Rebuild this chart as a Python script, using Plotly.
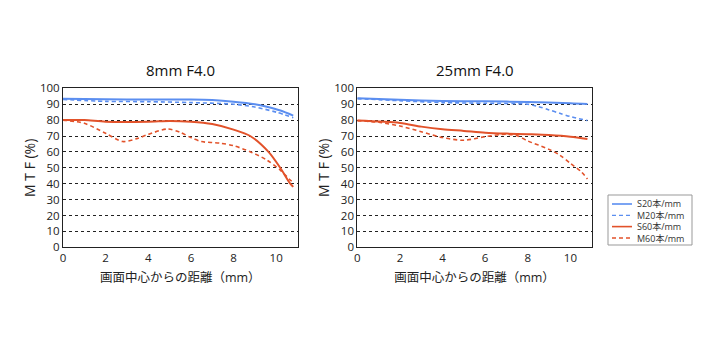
import plotly.graph_objects as go

# ---- data ----
x_s20_8 = [0, 2, 4, 6, 7, 8, 9, 9.56, 10.2, 10.8]
y_s20_8 = [93.4, 93.1, 92.9, 92.9, 92.6, 91.6, 90.0, 88.4, 86.0, 82.8]
x_m20_8 = [0, 2, 4, 6, 8, 9, 10, 10.8]
y_m20_8 = [93.0, 91.8, 91.6, 91.0, 90.0, 88.2, 85.0, 81.5]
x_s60_8 = [0, 1, 2, 4, 5, 6, 7, 8, 8.78, 9.64, 10.19, 10.66, 10.8]
y_s60_8 = [80, 80, 79, 79, 79.5, 79, 77.5, 74, 70, 60, 50, 40, 38]
x_m60_8 = [0, 1, 2, 2.8, 3.5, 4, 4.9, 5.5, 6, 6.5, 7.37, 8, 8.78, 9.56, 10.19, 10.66, 10.8]
y_m60_8 = [80, 78, 71.7, 66.5, 68.5, 71, 74.4, 72.3, 69, 66.5, 65.5, 63.9, 60.1, 54.9, 48.6, 42.3, 41]

x_s20_25 = [0, 2, 4, 6, 8, 10, 10.8]
y_s20_25 = [93.7, 92.8, 92.0, 91.8, 91.4, 90.6, 90.1]
x_m20_25 = [0, 2, 4, 6, 8, 8.5, 9, 9.5, 10, 10.8]
y_m20_25 = [93.5, 92.2, 91.0, 90.6, 90.0, 88.5, 86.4, 84.3, 82.2, 79.7]
x_s60_25 = [0, 2, 3, 4, 5, 6, 7, 8, 9, 10, 10.8]
y_s60_25 = [79.7, 78.2, 75.9, 74.2, 73.2, 72.1, 71.5, 71.1, 70.6, 69.6, 68.1]
x_m60_25 = [0, 1, 2, 3, 4, 5, 6, 7, 7.5, 8, 9, 9.5, 10, 10.5, 10.8]
y_m60_25 = [79.7, 78.6, 76.3, 72.7, 69, 67.3, 69.6, 71.1, 70.2, 66.9, 61.6, 58, 52.8, 47.6, 43]

titles = ["8mm F4.0", "25mm F4.0"]
legend_names = ["S20本/mm", "M20本/mm", "S60本/mm", "M60本/mm"]
y_ticks = list(range(0, 101, 10))
x_ticks = [0, 2, 4, 6, 8, 10]
x_title = "画面中心からの距離（mm）"
y_title = "M T F (%)"

BLUE = "#5b8ef0"
RED = "#e2522a"
FONT = "Open Sans, Noto Sans CJK JP"
W, H = 720, 345

fig = go.Figure()

panels = [
    ("x", "y", [(x_s20_8, y_s20_8), (x_m20_8, y_m20_8), (x_s60_8, y_s60_8), (x_m60_8, y_m60_8)]),
    ("x2", "y2", [(x_s20_25, y_s20_25), (x_m20_25, y_m20_25), (x_s60_25, y_s60_25), (x_m60_25, y_m60_25)]),
]
styles = [(BLUE, "solid", 2), (BLUE, "4px,3px", 1.6), (RED, "solid", 2), (RED, "4px,3px", 1.6)]

for pi, (xa, ya, series) in enumerate(panels):
    for si, (xs, ys) in enumerate(series):
        c, d, w = styles[si]
        fig.add_trace(go.Scatter(
            x=xs, y=ys, mode="lines", xaxis=xa, yaxis=ya,
            line=dict(color=c, dash=d, width=w, shape="spline", smoothing=0.8),
            name=legend_names[si], showlegend=False, hoverinfo="skip",
        ))

ydom = [1 - 247.3 / H, 1 - 88.3 / H]
axis_common = dict(showline=True, linecolor="#222", linewidth=1, mirror=True,
                   ticks="", tickfont=dict(size=11.5, color="#222", family=FONT),
                   zeroline=False, automargin=False)

fig.update_layout(
    width=W, height=H,
    margin=dict(l=0, r=0, t=0, b=0, pad=0),
    paper_bgcolor="white", plot_bgcolor="white",
    font=dict(family=FONT, color="#222"),
    showlegend=False,
    xaxis=dict(domain=[63 / W, 297.5 / W], range=[0, 11], tickvals=x_ticks,
               showgrid=False, anchor="y",
               title=dict(text=x_title, font=dict(size=12.5), standoff=9),
               **axis_common),
    yaxis=dict(domain=ydom, range=[0, 100], tickvals=y_ticks, anchor="x",
               showgrid=True, gridcolor="#222", griddash="dot", gridwidth=1,
               title=dict(text=y_title, font=dict(size=14), standoff=1),
               **axis_common),
    xaxis2=dict(domain=[357.3 / W, 591.7 / W], range=[0, 11], tickvals=x_ticks,
                showgrid=False, anchor="y2",
                title=dict(text=x_title, font=dict(size=12.5), standoff=9),
                **axis_common),
    yaxis2=dict(domain=ydom, range=[0, 100], tickvals=y_ticks, anchor="x2",
                showgrid=True, gridcolor="#222", griddash="dot", gridwidth=1,
                title=dict(text=y_title, font=dict(size=14), standoff=1),
                **axis_common),
)

for t, cx in zip(titles, [(63 + 297.5) / 2, (357.3 + 591.7) / 2]):
    fig.add_annotation(text=t, x=cx / W, y=1 - 70 / H, xref="paper", yref="paper",
                       showarrow=False, xanchor="center", yanchor="middle",
                       font=dict(size=15, family=FONT, color="#111"))

# manual compact legend
fig.add_shape(type="rect", xref="paper", yref="paper",
              x0=608 / W, x1=692 / W, y0=1 - 245 / H, y1=1 - 195 / H,
              line=dict(color="#999", width=1), fillcolor="white")
leg_y = [204, 215.3, 226.6, 238]
for (c, d, w), ly in zip(styles, leg_y):
    fig.add_shape(type="line", xref="paper", yref="paper",
                  x0=612 / W, x1=632 / W, y0=1 - ly / H, y1=1 - ly / H,
                  line=dict(color=c, dash=d, width=w * 0.8))
fig.add_annotation(text="<br>".join(legend_names), x=635 / W, y=1 - 221 / H,
                   xref="paper", yref="paper", showarrow=False,
                   xanchor="left", yanchor="middle", align="left",
                   font=dict(size=9, family=FONT, color="#333"))

fig.write_html("out.html")
